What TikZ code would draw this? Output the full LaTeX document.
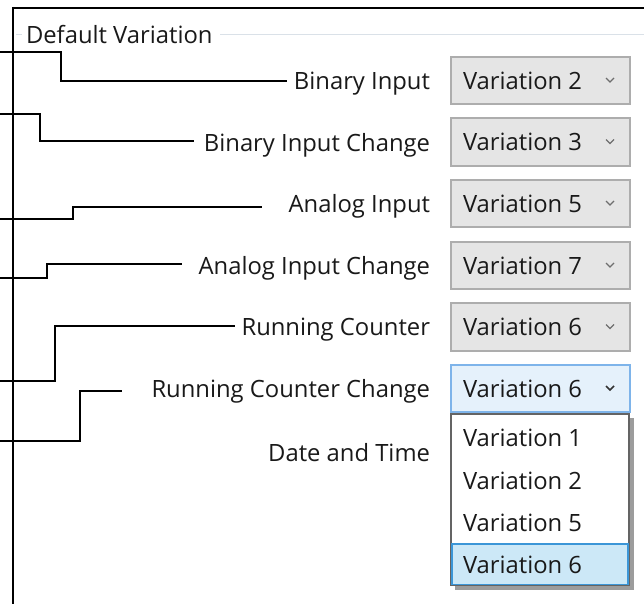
\documentclass[tikz,border=0pt]{standalone}
\usepackage{fontspec}
\setmainfont{Open Sans}
\definecolor{txt}{RGB}{25,25,25}
\definecolor{grpline}{RGB}{218,225,232}
\definecolor{cbfill}{RGB}{229,229,229}
\definecolor{cbborder}{RGB}{173,173,173}
\definecolor{selfill}{RGB}{229,241,251}
\definecolor{selborder}{RGB}{126,180,234}
\definecolor{hifill}{RGB}{204,232,247}
\definecolor{hiborder}{RGB}{60,150,215}
\definecolor{listborder}{RGB}{100,100,100}
\definecolor{chev}{RGB}{110,110,110}
\begin{document}
\begin{tikzpicture}[x=1pt,y=-1pt,
  every node/.style={inner sep=0pt,outer sep=0pt,text=txt,text depth=0pt,font=\fontsize{23.8}{26}\selectfont},
  lbl/.style={anchor=east},
  vtxt/.style={anchor=west},
  conn/.style={draw=black,line width=1.4pt},
  combo/.style={draw=cbborder,fill=cbfill,line width=1.3pt},
  combosel/.style={draw=selborder,fill=selfill,line width=1.3pt},
  chevron/.style={draw=chev,line width=1.2pt},
  chevronsel/.style={draw=black!80,line width=1.5pt}]
\useasboundingbox (0,0) rectangle (644,604);
\fill[white] (0,0) rectangle (644,604);

% group box
\node[anchor=west] (hdr) at (26,34) {Default Variation};
\draw[grpline,line width=1.2pt] (16,34.5) -- (22,34.5);
\draw[grpline,line width=1.2pt] (220,34.5) -- (644,34.5);

% frame
\draw[black,line width=2pt] (13,8) -- (644,8);
\draw[black,line width=1.5pt] (13,7) -- (13,604);

% labels
\node[lbl] (l1) at (430,80.5) {Binary Input};
\node[lbl] (l2) at (430,142) {Binary Input Change};
\node[lbl] (l3) at (430,203.5) {Analog Input};
\node[lbl] (l4) at (430,265.5) {Analog Input Change};
\node[lbl] (l5) at (430,327) {Running Counter};
\node[lbl] (l6) at (430,388.5) {Running Counter Change};
\node[lbl] (l7) at (430,452) {Date and Time};

% combos
\foreach \t/\b/\v/\n in {57/104/2/1,118/166/3/2,180/227/5/3,242/289/7/4,303/351/6/5}{
  \draw[combo] (451,\t) rectangle (630,\b);
  \node[vtxt] (c\n) at (463,{(\t+\b)/2}) {Variation \v};
  \draw[chevron] (606,{(\t+\b)/2-2.5}) -- (610,{(\t+\b)/2+1.5}) -- (614,{(\t+\b)/2-2.5});
}
\draw[combosel] (451,365) rectangle (630,412);
\node[vtxt] (c6) at (463,388.5) {Variation 6};
\draw[chevronsel] (606,386) -- (610,390) -- (614,386);

% dropdown list
\fill[black!55,opacity=0.7] (455,418) rectangle (634,590);
\draw[listborder,fill=white,line width=1.3pt] (451,414) rectangle (629,585);
\draw[hiborder,fill=hifill,line width=1.3pt] (452,544) rectangle (628,584.5);
\node[vtxt] (d1) at (463,438) {Variation 1};
\node[vtxt] (d2) at (463,481) {Variation 2};
\node[vtxt] (d5) at (463,523) {Variation 5};
\node[vtxt] (d6) at (463,564.5) {Variation 6};

% connectors
\coordinate (s1) at (0,52);  \coordinate (e1) at (287,81);
\coordinate (s2) at (0,114); \coordinate (e2) at (194,141);
\coordinate (s3) at (0,219); \coordinate (e3) at (262,207);
\coordinate (s4) at (0,278); \coordinate (e4) at (182,264);
\coordinate (s5) at (0,381); \coordinate (e5) at (235,326);
\coordinate (s6) at (0,441); \coordinate (e6) at (122,391);
\draw[conn] (s1) -- ++(61,0) |- (e1);
\draw[conn] (s2) -- ++(40,0) |- (e2);
\draw[conn] (s3) -- ++(73,0) |- (e3);
\draw[conn] (s4) -- ++(47,0) |- (e4);
\draw[conn] (s5) -- ++(55,0) |- (e5);
\draw[conn] (s6) -- ++(80,0) |- (e6);
\end{tikzpicture}
\end{document}
